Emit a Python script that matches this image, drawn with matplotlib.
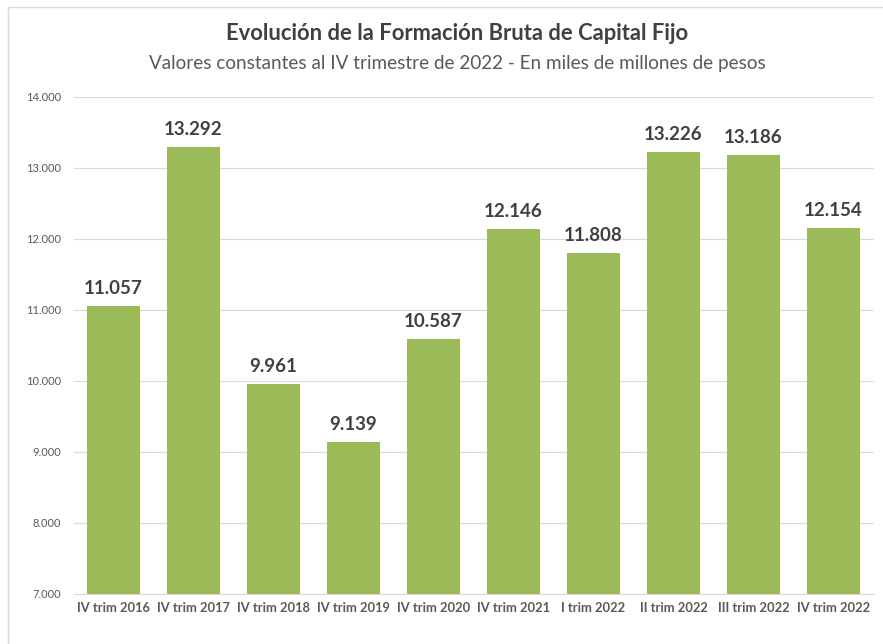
import matplotlib
matplotlib.use("Agg")
import matplotlib.pyplot as plt
from matplotlib.patches import Rectangle

categories = ["IV trim 2016", "IV trim 2017", "IV trim 2018", "IV trim 2019", "IV trim 2020",
              "IV trim 2021", "I trim 2022", "II trim 2022", "III trim 2022", "IV trim 2022"]
values = [11057, 13292, 9961, 9139, 10587, 12146, 11808, 13226, 13186, 12154]
yticks = [7000, 8000, 9000, 10000, 11000, 12000, 13000, 14000]

def fmt(v):
    return f"{v:,}".replace(",", ".")

plt.rcParams['font.family'] = ['Lato', 'DejaVu Sans']

fig = plt.figure(figsize=(8.83, 6.44), dpi=100)
fig.patches.append(Rectangle((8/883, -0.1), 2.0, 1 - 7/644 + 0.1, transform=fig.transFigure,
                             fill=False, edgecolor='#d9d9d9', linewidth=1.0))

ax = fig.add_axes([73.5/883, 1 - 594/644, 800/883, 497/644])
x = list(range(len(categories)))
ax.bar(x, values, width=0.66, color='#9bbb59', zorder=3)
ax.set_xlim(-0.5, len(categories) - 0.5)
ax.set_ylim(7000, 14000)
ax.set_yticks(yticks)
ax.set_yticklabels([fmt(v) for v in yticks], fontsize=8, color='#595959')
ax.set_xticks(x)
ax.set_xticklabels(categories, fontsize=9.3, fontweight='bold', color='#595959')
ax.tick_params(axis='both', length=0)
ax.tick_params(axis='y', pad=9)
ax.tick_params(axis='x', pad=6)
ax.grid(axis='y', color='#d9d9d9', linewidth=0.8, zorder=0)
for s in ['top', 'right', 'left']:
    ax.spines[s].set_visible(False)
ax.spines['bottom'].set_color('#d9d9d9')
ax.spines['bottom'].set_linewidth(0.8)

for xi, v in zip(x, values):
    ax.annotate(fmt(v), (xi, v), xytext=(0, 6.5), textcoords='offset points',
                ha='center', va='bottom', fontsize=13.5, fontweight='bold', color='#404040')

fig.text(457/883, 1 - 34/644, "Evolución de la Formación Bruta de Capital Fijo",
         ha='center', va='center', fontsize=15.8, fontweight='bold', color='#404040')
fig.text(457/883, 1 - 63/644, "Valores constantes al IV trimestre de 2022 - En miles de millones de pesos",
         ha='center', va='center', fontsize=13.6, color='#595959')

fig.savefig("out.png", dpi=100)
